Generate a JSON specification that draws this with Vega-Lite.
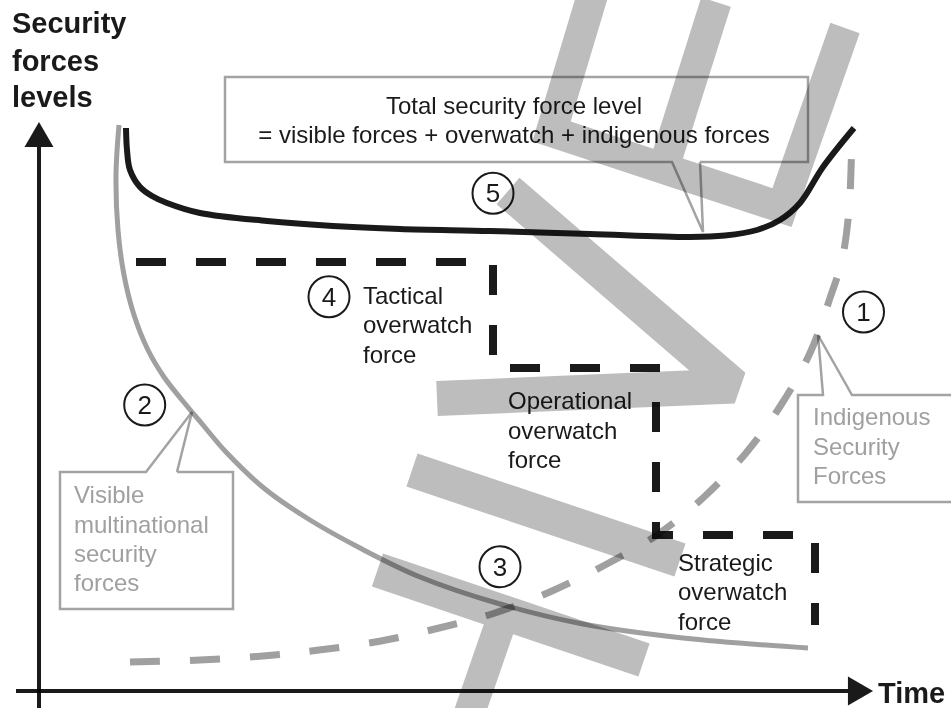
{
  "$schema": "https://vega.github.io/schema/vega-lite/v6.json",
  "width": 951,
  "height": 708,
  "autosize": {"type": "none"},
  "padding": 0,
  "background": "white",
  "config": {"view": {"stroke": null}},
  "datasets": {
    "bars": [
      {"shape": "U", "i": 0, "x": 597, "y": -20},
      {"shape": "U", "i": 1, "x": 551.5, "y": 131.5},
      {"shape": "U", "i": 2, "x": 782, "y": 207.6},
      {"shape": "U", "i": 3, "x": 845, "y": 28},
      {"shape": "U2", "i": 0, "x": 716, "y": 2},
      {"shape": "U2", "i": 1, "x": 663, "y": 170},
      {"shape": "stem", "i": 0, "x": 501, "y": 622},
      {"shape": "stem", "i": 1, "x": 467, "y": 720},
      {"shape": "chev", "i": 0, "x": 508, "y": 191},
      {"shape": "chev", "i": 1, "x": 734, "y": 386},
      {"shape": "chev", "i": 2, "x": 437, "y": 398.5},
      {"shape": "slant", "i": 0, "x": 412, "y": 470},
      {"shape": "slant", "i": 1, "x": 680, "y": 560},
      {"shape": "tbar", "i": 0, "x": 377.5, "y": 570},
      {"shape": "tbar", "i": 1, "x": 644, "y": 660}
    ],
    "lines": [
      {"series": "axisY", "i": 0, "x": 39, "y": 708},
      {"series": "axisY", "i": 1, "x": 39, "y": 147},
      {"series": "axisX", "i": 0, "x": 16, "y": 691},
      {"series": "axisX", "i": 1, "x": 848, "y": 691},
      {"series": "visible", "i": 0, "x": 119, "y": 125},
      {"series": "visible", "i": 1, "x": 116, "y": 175},
      {"series": "visible", "i": 2, "x": 118, "y": 230},
      {"series": "visible", "i": 3, "x": 124, "y": 275},
      {"series": "visible", "i": 4, "x": 134, "y": 315},
      {"series": "visible", "i": 5, "x": 148, "y": 350},
      {"series": "visible", "i": 6, "x": 164, "y": 377},
      {"series": "visible", "i": 7, "x": 182, "y": 400},
      {"series": "visible", "i": 8, "x": 203, "y": 425},
      {"series": "visible", "i": 9, "x": 226, "y": 452},
      {"series": "visible", "i": 10, "x": 265, "y": 489},
      {"series": "visible", "i": 11, "x": 310, "y": 520},
      {"series": "visible", "i": 12, "x": 360, "y": 548},
      {"series": "visible", "i": 13, "x": 420, "y": 577},
      {"series": "visible", "i": 14, "x": 500, "y": 604},
      {"series": "visible", "i": 15, "x": 583, "y": 624},
      {"series": "visible", "i": 16, "x": 683, "y": 638},
      {"series": "visible", "i": 17, "x": 808, "y": 648},
      {"series": "indigenous", "i": 0, "x": 130, "y": 662},
      {"series": "indigenous", "i": 1, "x": 200, "y": 660},
      {"series": "indigenous", "i": 2, "x": 263, "y": 656},
      {"series": "indigenous", "i": 3, "x": 319, "y": 650},
      {"series": "indigenous", "i": 4, "x": 381, "y": 641},
      {"series": "indigenous", "i": 5, "x": 439, "y": 628},
      {"series": "indigenous", "i": 6, "x": 495, "y": 613},
      {"series": "indigenous", "i": 7, "x": 552, "y": 591},
      {"series": "indigenous", "i": 8, "x": 605, "y": 565},
      {"series": "indigenous", "i": 9, "x": 657, "y": 535},
      {"series": "indigenous", "i": 10, "x": 704, "y": 497},
      {"series": "indigenous", "i": 11, "x": 746, "y": 453},
      {"series": "indigenous", "i": 12, "x": 781, "y": 405},
      {"series": "indigenous", "i": 13, "x": 810, "y": 353},
      {"series": "indigenous", "i": 14, "x": 830, "y": 298},
      {"series": "indigenous", "i": 15, "x": 842, "y": 260},
      {"series": "indigenous", "i": 16, "x": 849, "y": 210},
      {"series": "indigenous", "i": 17, "x": 851, "y": 170},
      {"series": "indigenous", "i": 18, "x": 852, "y": 135},
      {"series": "total", "i": 0, "x": 126, "y": 128},
      {"series": "total", "i": 1, "x": 127, "y": 150},
      {"series": "total", "i": 2, "x": 130, "y": 170},
      {"series": "total", "i": 3, "x": 140, "y": 187},
      {"series": "total", "i": 4, "x": 152, "y": 196},
      {"series": "total", "i": 5, "x": 167, "y": 203},
      {"series": "total", "i": 6, "x": 200, "y": 213},
      {"series": "total", "i": 7, "x": 267, "y": 221},
      {"series": "total", "i": 8, "x": 333, "y": 226},
      {"series": "total", "i": 9, "x": 400, "y": 229},
      {"series": "total", "i": 10, "x": 490, "y": 231},
      {"series": "total", "i": 11, "x": 590, "y": 234},
      {"series": "total", "i": 12, "x": 690, "y": 237},
      {"series": "total", "i": 13, "x": 725, "y": 235.5},
      {"series": "total", "i": 14, "x": 757, "y": 230},
      {"series": "total", "i": 15, "x": 780, "y": 220},
      {"series": "total", "i": 16, "x": 800, "y": 203},
      {"series": "total", "i": 17, "x": 823, "y": 167},
      {"series": "total", "i": 18, "x": 854, "y": 128},
      {"series": "overwatch", "i": 0, "x": 136, "y": 262},
      {"series": "overwatch", "i": 1, "x": 493, "y": 262},
      {"series": "overwatch", "i": 2, "x": 493, "y": 368},
      {"series": "overwatch", "i": 3, "x": 656, "y": 368},
      {"series": "overwatch", "i": 4, "x": 656, "y": 535},
      {"series": "overwatch", "i": 5, "x": 815, "y": 535},
      {"series": "overwatch", "i": 6, "x": 815, "y": 625}
    ],
    "boxes": [
      {"box": "total", "i": 0, "x": 700, "y": 162},
      {"box": "total", "i": 1, "x": 808, "y": 162},
      {"box": "total", "i": 2, "x": 808, "y": 77},
      {"box": "total", "i": 3, "x": 225, "y": 77},
      {"box": "total", "i": 4, "x": 225, "y": 162},
      {"box": "total", "i": 5, "x": 672, "y": 162},
      {"box": "total", "i": 6, "x": 703, "y": 232},
      {"box": "total", "i": 7, "x": 700, "y": 162},
      {"box": "isf", "i": 0, "x": 951, "y": 395},
      {"box": "isf", "i": 1, "x": 852, "y": 395},
      {"box": "isf", "i": 2, "x": 818, "y": 335},
      {"box": "isf", "i": 3, "x": 823, "y": 395},
      {"box": "isf", "i": 4, "x": 798, "y": 395},
      {"box": "isf", "i": 5, "x": 798, "y": 502},
      {"box": "isf", "i": 6, "x": 951, "y": 502},
      {"box": "vmsf", "i": 0, "x": 177, "y": 472},
      {"box": "vmsf", "i": 1, "x": 233, "y": 472},
      {"box": "vmsf", "i": 2, "x": 233, "y": 609},
      {"box": "vmsf", "i": 3, "x": 60, "y": 609},
      {"box": "vmsf", "i": 4, "x": 60, "y": 472},
      {"box": "vmsf", "i": 5, "x": 146, "y": 472},
      {"box": "vmsf", "i": 6, "x": 192, "y": 412},
      {"box": "vmsf", "i": 7, "x": 177, "y": 472}
    ],
    "arrows": [
      {"dir": "up", "x": 39, "y": 134.5},
      {"dir": "right", "x": 860.5, "y": 691}
    ],
    "circles": [
      {"n": "1", "x": 863.5, "y": 312},
      {"n": "2", "x": 144.7, "y": 405},
      {"n": "3", "x": 500, "y": 566.7},
      {"n": "4", "x": 329, "y": 296.7},
      {"n": "5", "x": 493, "y": 193.3}
    ],
    "labels": [
      {"kind": "bold", "text": "Security", "x": 12, "y": 33},
      {"kind": "bold", "text": "forces", "x": 12, "y": 71},
      {"kind": "bold", "text": "levels", "x": 12, "y": 107},
      {"kind": "bold", "text": "Time", "x": 878, "y": 703},
      {"kind": "center", "text": "Total security force level", "x": 514, "y": 114},
      {"kind": "center", "text": "= visible forces + overwatch + indigenous forces", "x": 514, "y": 143},
      {"kind": "black", "text": "Tactical", "x": 363, "y": 304},
      {"kind": "black", "text": "overwatch", "x": 363, "y": 333},
      {"kind": "black", "text": "force", "x": 363, "y": 363},
      {"kind": "black", "text": "Operational", "x": 508, "y": 409},
      {"kind": "black", "text": "overwatch", "x": 508, "y": 439},
      {"kind": "black", "text": "force", "x": 508, "y": 468},
      {"kind": "black", "text": "Strategic", "x": 678, "y": 571},
      {"kind": "black", "text": "overwatch", "x": 678, "y": 600},
      {"kind": "black", "text": "force", "x": 678, "y": 630},
      {"kind": "gray", "text": "Indigenous", "x": 813, "y": 425},
      {"kind": "gray", "text": "Security", "x": 813, "y": 455},
      {"kind": "gray", "text": "Forces", "x": 813, "y": 484},
      {"kind": "gray", "text": "Visible", "x": 74, "y": 503},
      {"kind": "gray", "text": "multinational", "x": 74, "y": 533},
      {"kind": "gray", "text": "security", "x": 74, "y": 562},
      {"kind": "gray", "text": "forces", "x": 74, "y": 591}
    ]
  },
  "encoding": {
    "x": {"field": "x", "type": "quantitative", "scale": {"domain": [0, 951], "nice": false, "zero": false}, "axis": null},
    "y": {"field": "y", "type": "quantitative", "scale": {"domain": [0, 708], "reverse": true, "nice": false, "zero": false}, "axis": null}
  },
  "layer": [
    {
      "data": {"name": "bars"},
      "transform": [{"filter": "datum.shape === 'U' || datum.shape === 'U2' || datum.shape === 'stem'"}],
      "mark": {"type": "line", "color": "#bdbdbd", "strokeWidth": 31, "strokeCap": "butt", "strokeJoin": "miter", "clip": false},
      "encoding": {"detail": {"field": "shape"}, "order": {"field": "i", "type": "quantitative"}}
    },
    {
      "data": {"name": "bars"},
      "transform": [{"filter": "datum.shape === 'chev' || datum.shape === 'slant' || datum.shape === 'tbar'"}],
      "mark": {"type": "line", "color": "#bdbdbd", "strokeWidth": 35, "strokeCap": "butt", "strokeJoin": "bevel"},
      "encoding": {"detail": {"field": "shape"}, "order": {"field": "i", "type": "quantitative"}}
    },
    {
      "data": {"name": "boxes"},
      "mark": {"type": "line", "color": "#a3a3a3", "strokeWidth": 2.5, "strokeJoin": "miter", "blend": "multiply"},
      "encoding": {"detail": {"field": "box"}, "order": {"field": "i", "type": "quantitative"}}
    },
    {
      "data": {"name": "lines"},
      "transform": [{"filter": "datum.series === 'visible'"}],
      "mark": {"type": "line", "color": "#a0a0a0", "strokeWidth": 5, "interpolate": "catmull-rom", "blend": "multiply"},
      "encoding": {"order": {"field": "i", "type": "quantitative"}}
    },
    {
      "data": {"name": "lines"},
      "transform": [{"filter": "datum.series === 'indigenous'"}],
      "mark": {"type": "line", "color": "#a0a0a0", "strokeWidth": 7, "strokeDash": [30, 30], "strokeCap": "butt", "interpolate": "catmull-rom", "blend": "multiply"},
      "encoding": {"order": {"field": "i", "type": "quantitative"}}
    },
    {
      "data": {"name": "lines"},
      "transform": [{"filter": "datum.series === 'total'"}],
      "mark": {"type": "line", "color": "#1a1a1a", "strokeWidth": 6, "interpolate": "catmull-rom", "blend": "multiply"},
      "encoding": {"order": {"field": "i", "type": "quantitative"}}
    },
    {
      "data": {"name": "lines"},
      "transform": [{"filter": "datum.series === 'overwatch'"}],
      "mark": {"type": "line", "color": "#1a1a1a", "strokeWidth": 8, "strokeDash": [30, 30], "strokeCap": "butt", "strokeJoin": "miter", "blend": "multiply"},
      "encoding": {"order": {"field": "i", "type": "quantitative"}}
    },
    {
      "data": {"name": "lines"},
      "transform": [{"filter": "datum.series === 'axisX' || datum.series === 'axisY'"}],
      "mark": {"type": "line", "color": "#1a1a1a", "strokeWidth": 4, "strokeCap": "butt", "blend": "multiply"},
      "encoding": {"detail": {"field": "series"}, "order": {"field": "i", "type": "quantitative"}}
    },
    {
      "data": {"name": "arrows"},
      "transform": [{"filter": "datum.dir === 'up'"}],
      "mark": {"type": "point", "shape": "triangle-up", "size": 841, "filled": true, "color": "#1a1a1a", "opacity": 1, "blend": "multiply"}
    },
    {
      "data": {"name": "arrows"},
      "transform": [{"filter": "datum.dir === 'right'"}],
      "mark": {"type": "point", "shape": "triangle-right", "size": 841, "filled": true, "color": "#1a1a1a", "opacity": 1, "blend": "multiply"}
    },
    {
      "data": {"name": "circles"},
      "mark": {"type": "point", "shape": "circle", "size": 1681, "filled": false, "stroke": "#1a1a1a", "strokeWidth": 2, "opacity": 1, "blend": "multiply"}
    },
    {
      "data": {"name": "circles"},
      "mark": {"type": "text", "font": "Liberation Sans", "fontSize": 26, "align": "center", "baseline": "middle", "dy": 1, "color": "#1a1a1a", "blend": "multiply"},
      "encoding": {"text": {"field": "n"}}
    },
    {
      "data": {"name": "labels"},
      "transform": [{"filter": "datum.kind === 'bold'"}],
      "mark": {"type": "text", "font": "Liberation Sans", "fontWeight": "bold", "fontSize": 29, "align": "left", "baseline": "alphabetic", "color": "#1a1a1a", "blend": "multiply"},
      "encoding": {"text": {"field": "text"}}
    },
    {
      "data": {"name": "labels"},
      "transform": [{"filter": "datum.kind === 'center'"}],
      "mark": {"type": "text", "font": "Liberation Sans", "fontSize": 24, "align": "center", "baseline": "alphabetic", "color": "#1a1a1a", "blend": "multiply"},
      "encoding": {"text": {"field": "text"}}
    },
    {
      "data": {"name": "labels"},
      "transform": [{"filter": "datum.kind === 'black'"}],
      "mark": {"type": "text", "font": "Liberation Sans", "fontSize": 24, "align": "left", "baseline": "alphabetic", "color": "#1a1a1a", "blend": "multiply"},
      "encoding": {"text": {"field": "text"}}
    },
    {
      "data": {"name": "labels"},
      "transform": [{"filter": "datum.kind === 'gray'"}],
      "mark": {"type": "text", "font": "Liberation Sans", "fontSize": 24, "align": "left", "baseline": "alphabetic", "color": "#a0a0a0", "blend": "multiply"},
      "encoding": {"text": {"field": "text"}}
    }
  ]
}
